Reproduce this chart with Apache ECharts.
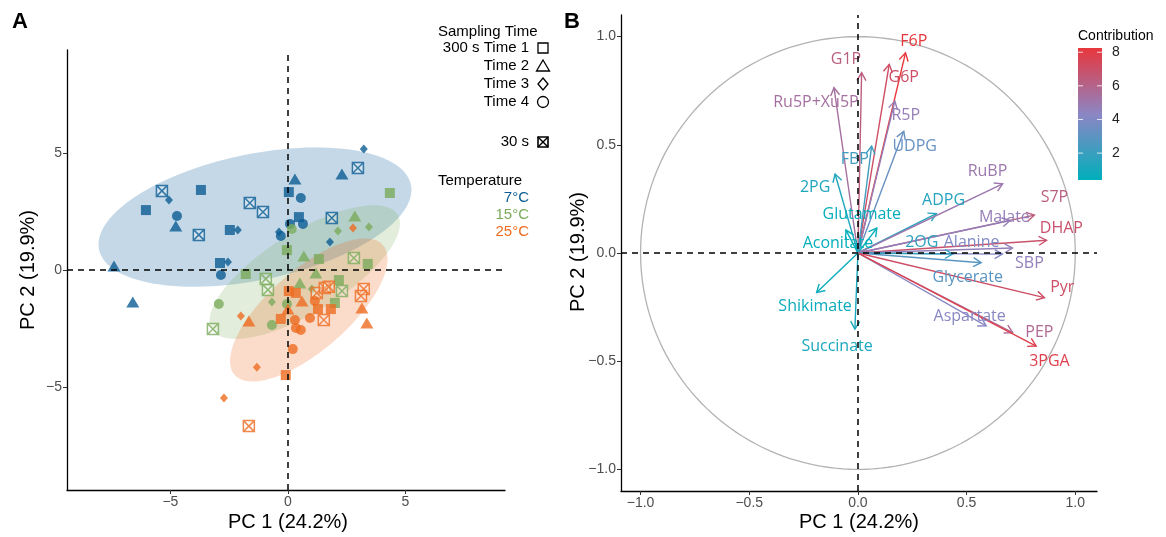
<!DOCTYPE html>
<html><head><meta charset="utf-8">
<script src="https://cdn.jsdelivr.net/npm/echarts@6/dist/echarts.min.js"></script>
<style>html,body{margin:0;padding:0;background:#fff}#c{width:1166px;height:537px}</style>
</head><body><div id="c"></div>
<script>
// ================= DATA =================
// Panel A – PCA scores. Shapes: S=Time 1, T=Time 2, D=Time 3, C=Time 4 (300 s), X=30 s
const temps = ['7°C', '15°C', '25°C'];
const coldX = [-5.36,-5.06,-3.70,-6.04,-4.72,-4.77,-1.62,-1.06,-3.79,-2.47,-2.13,-0.38,-0.30,-2.89,-2.55,-2.85,-7.40,-6.60,0.04,3.23,2.98,2.30,0.30,0.55,0.47,0.64,0.09,1.87,1.79];
const coldY = [3.38,2.99,3.42,2.56,2.31,1.88,2.86,2.48,1.50,1.71,1.71,1.62,1.45,0.30,0.34,-0.21,0.17,-1.37,3.33,5.17,4.36,4.10,3.89,3.08,2.26,1.97,1.97,2.22,1.20];
const coldShape = ['X','D','S','S','C','T','X','X','X','S','D','D','C','S','D','C','T','T','S','D','X','T','T','C','S','C','C','X','D'];
const midX = [4.34,0.17,2.85,2.13,3.45,-0.04,0.68,1.32,2.81,3.40,1.19,-1.79,-0.94,-0.85,0.51,1.02,2.17,2.30,2.00,-0.68,-2.94,-3.19,-0.68,-0.04];
const midY = [3.29,1.75,2.31,1.67,1.84,0.85,0.60,0.47,0.51,0.26,-0.13,-0.17,-0.38,-0.85,-0.56,-0.81,-0.43,-0.90,-1.41,-1.37,-1.45,-2.52,-2.35,-1.45];
const midShape = ['S','C','T','D','D','S','T','S','X','S','T','S','X','X','T','D','S','X','S','D','C','X','C','C'];
const warmX = [2.77,0.04,0.34,1.23,1.57,1.74,0.60,1.15,1.28,1.83,0.00,3.23,3.11,3.15,3.36,-2.00,-1.66,-0.30,0.30,0.34,0.55,0.94,1.53,0.21,-1.32,-0.09,-2.72,-1.66];
const warmY = [1.79,-0.90,-0.98,-0.98,-0.77,-0.72,-1.32,-1.32,-1.67,-1.67,-1.67,-0.81,-1.11,-1.62,-2.26,-1.97,-2.18,-2.09,-2.14,-2.48,-2.56,-2.05,-2.14,-3.38,-4.15,-4.49,-5.47,-6.67];
const warmShape = ['D','S','S','X','X','X','T','C','S','S','T','X','X','T','T','D','T','S','C','C','C','C','X','C','D','S','D','X'];
// 95% confidence ellipses (center, semi-axes, rotation in degrees) per temperature
const ellipseCX = [-1.40, 0.72, 0.89];
const ellipseCY = [2.26, -0.09, -1.71];
const ellipseA = [6.78, 4.65, 4.20];
const ellipseB = [2.69, 1.71, 1.71];
const ellipseAngle = [11.8, 31.9, 41.3];
const ticksA = [-5, 0, 5];

// Panel B – variable loadings and contributions
const vars = ['F6P','G6P','G1P','Ru5P+Xu5P','R5P','UDPG','FBP','2PG','Glutamate','Aconitate','ADPG','RuBP','S7P','Malate','DHAP','SBP','Alanine','2OG','Glycerate','Pyr','Aspartate','PEP','3PGA','Shikimate','Succinate'];
const loadX = [0.219,0.144,0.017,-0.110,0.170,0.211,0.063,-0.105,0.087,-0.055,0.361,0.666,0.812,0.700,0.868,0.711,0.665,0.436,0.567,0.858,0.590,0.712,0.820,-0.190,-0.014];
const loadY = [0.925,0.872,0.833,0.764,0.702,0.563,0.494,0.365,0.115,0.106,0.182,0.320,0.175,0.150,0.059,0.023,-0.005,-0.005,-0.045,-0.206,-0.337,-0.368,-0.430,-0.183,-0.352];
const contrib = [8.25,7.1,6.3,5.4,4.7,3.3,2.25,1.3,0.5,0.4,1.5,5.0,6.3,4.7,6.9,4.6,4.0,1.7,2.9,7.1,4.2,5.8,7.8,0.65,1.1];
const ticksB = [-1, -0.5, 0, 0.5, 1];
const contribTicks = [2, 4, 6, 8];

// ================= LAYOUT / STYLE =================
const labelPos = [[0.257,0.979],[0.211,0.813],[-0.055,0.896],[-0.193,0.697],[0.220,0.637],[0.261,0.494],[-0.014,0.434],[-0.197,0.305],[0.018,0.180],[-0.092,0.046],[0.394,0.245],[0.596,0.379],[0.904,0.259],[0.674,0.166],[0.936,0.115],[0.789,-0.046],[0.523,0.051],[0.294,0.051],[0.505,-0.115],[0.940,-0.157],[0.514,-0.291],[0.835,-0.365],[0.881,-0.499],[-0.197,-0.249],[-0.096,-0.430]];
const tempColors = ['#0b5d93', '#7aab5b', '#ee6b21'];
const ellipseFill = ['rgba(20,100,160,0.25)', 'rgba(122,171,91,0.22)', 'rgba(238,107,33,0.24)'];
const crossPath = 'path://M0,0L20,0L20,20L0,20Z M0,0L20,20 M20,0L0,20';
const symbolOf = {S: 'rect', T: 'triangle', D: 'diamond', C: 'circle', X: crossPath};
const sizeOf = {S: [10,10], T: [13,11], D: [8,9], C: [10,10], X: [11,11]};
const FONT = '"Liberation Sans", Arial, sans-serif';
const minus = v => (v < 0 ? '\u2212' + Math.abs(v) : String(v));
const minus1 = v => (v < 0 ? '\u2212' + Math.abs(v).toFixed(1) : v.toFixed(1));

const cMin = Math.min(...contrib), cMax = Math.max(...contrib);
const gradCols = [[0, [0,175,187]], [0.5, [140,134,196]], [1, [232,54,60]]];
function contribColor(v) {
  let t = (v - cMin) / (cMax - cMin); t = Math.max(0, Math.min(1, t));
  for (let k = 0; k < gradCols.length - 1; k++) {
    const [t0, c0] = gradCols[k], [t1, c1] = gradCols[k+1];
    if (t <= t1) {
      const u = (t - t0) / (t1 - t0);
      return 'rgb(' + c0.map((c, j) => Math.round(c + (c1[j] - c) * u)).join(',') + ')';
    }
  }
  return 'rgb(232,54,60)';
}

function pointsFor(xs, ys, shapes, color) {
  return xs.map((x, i) => {
    const s = shapes[i];
    const item = {value: [x, ys[i]], symbol: symbolOf[s], symbolSize: sizeOf[s]};
    if (s === 'X') item.itemStyle = {color: 'rgba(255,255,255,0.35)', borderColor: color, borderWidth: 1.5};
    else item.itemStyle = {color: color};
    return item;
  });
}

const axisCommon = {
  axisLine: {show: true, onZero: false, lineStyle: {color: '#000', width: 1.3}},
  axisTick: {show: true, length: 4, lineStyle: {color: '#333', width: 1}},
  splitLine: {show: false},
  axisLabel: {color: '#4d4d4d', fontSize: 14, fontFamily: FONT, margin: 5}
};

const chart = echarts.init(document.getElementById('c'), null, {renderer: 'canvas'});

// graphic: titles, legends, colorbar
const G = [];
const txt = (x, y, text, o = {}) => G.push({type: 'text', x, y, rotation: o.rot || 0,
  style: {text, fill: o.fill || '#000', font: (o.bold ? 'bold ' : '') + (o.size || 15) + 'px ' + FONT,
    align: o.align || 'left', verticalAlign: 'middle'}});
txt(20, 22, 'A', {bold: true, size: 22, align: 'center'});
txt(572, 22, 'B', {bold: true, size: 22, align: 'center'});
txt(288, 522, 'PC 1 (24.2%)', {size: 20, align: 'center'});
txt(859, 522, 'PC 1 (24.2%)', {size: 20, align: 'center'});
txt(28, 270, 'PC 2 (19.9%)', {size: 20, align: 'center', rot: Math.PI / 2});
txt(578, 252, 'PC 2 (19.9%)', {size: 20, align: 'center', rot: Math.PI / 2});
// Sampling time legend
txt(438, 32, 'Sampling Time');
const legRows = [['300 s Time 1', 'S', 48], ['Time 2', 'T', 66], ['Time 3', 'D', 84], ['Time 4', 'C', 102], ['30 s', 'X', 142]];
legRows.forEach(([t, s, y]) => {
  txt(529, y, t, {align: 'right'});
  const cx = 543, st = {fill: 'none', stroke: '#000', lineWidth: 1.3};
  if (s === 'S') G.push({type: 'rect', shape: {x: cx - 5, y: y - 5, width: 10, height: 10}, style: st});
  if (s === 'T') G.push({type: 'polygon', shape: {points: [[cx, y - 6], [cx + 6.5, y + 5], [cx - 6.5, y + 5]]}, style: st});
  if (s === 'D') G.push({type: 'polygon', shape: {points: [[cx, y - 6], [cx + 5, y], [cx, y + 6], [cx - 5, y]]}, style: st});
  if (s === 'C') G.push({type: 'circle', shape: {cx, cy: y, r: 5.5}, style: st});
  if (s === 'X') {
    G.push({type: 'rect', shape: {x: cx - 5, y: y - 5, width: 10, height: 10}, style: {fill: 'none', stroke: '#000', lineWidth: 1.6}});
    G.push({type: 'polyline', shape: {points: [[cx - 5, y - 5], [cx + 5, y + 5]]}, style: {stroke: '#000', lineWidth: 1.4}});
    G.push({type: 'polyline', shape: {points: [[cx + 5, y - 5], [cx - 5, y + 5]]}, style: {stroke: '#000', lineWidth: 1.4}});
  }
});
txt(438, 181, 'Temperature');
temps.forEach((t, i) => txt(529, 198 + i * 17, t, {align: 'right', fill: tempColors[i]}));
// Contribution colorbar
const cbX = 1078, cbY = 48, cbW = 24, cbH = 132;
txt(1078, 36, 'Contribution', {size: 14});
const stops = [];
for (let k = 0; k <= 20; k++) stops.push({offset: k / 20, color: contribColor(cMax - (cMax - cMin) * k / 20)});
G.push({type: 'rect', shape: {x: cbX, y: cbY, width: cbW, height: cbH},
  style: {fill: new echarts.graphic.LinearGradient(0, 0, 0, 1, stops)}});
contribTicks.forEach(t => {
  const y = cbY + (cMax - t) / (cMax - cMin) * cbH;
  G.push({type: 'line', shape: {x1: cbX, y1: y, x2: cbX + 5, y2: y}, style: {stroke: 'rgba(255,255,255,0.8)', lineWidth: 1}});
  G.push({type: 'line', shape: {x1: cbX + cbW - 5, y1: y, x2: cbX + cbW, y2: y}, style: {stroke: 'rgba(255,255,255,0.8)', lineWidth: 1}});
  txt(1112, y, String(t), {size: 14, fill: '#222'});
});

const dashLine = {silent: true, symbol: 'none', label: {show: false},
  lineStyle: {color: '#000', type: [6, 5], width: 1.5}, data: [{xAxis: 0}, {yAxis: 0}]};

const option = {
  animation: false,
  backgroundColor: '#fff',
  grid: [
    {left: 67, top: 50, width: 438, height: 440},
    {left: 621, top: 15, width: 476, height: 476}
  ],
  xAxis: [
    Object.assign({}, axisCommon, {gridIndex: 0, type: 'value', min: -9.4, max: 9.24,
      axisTick: Object.assign({}, axisCommon.axisTick, {customValues: ticksA}),
      axisLabel: Object.assign({}, axisCommon.axisLabel, {customValues: ticksA, formatter: minus})}),
    Object.assign({}, axisCommon, {gridIndex: 1, type: 'value', min: -1.09, max: 1.10,
      axisTick: Object.assign({}, axisCommon.axisTick, {customValues: ticksB}),
      axisLabel: Object.assign({}, axisCommon.axisLabel, {customValues: ticksB, formatter: minus1})})
  ],
  yAxis: [
    Object.assign({}, axisCommon, {gridIndex: 0, type: 'value', min: -9.4, max: 9.4,
      axisTick: Object.assign({}, axisCommon.axisTick, {customValues: ticksA}),
      axisLabel: Object.assign({}, axisCommon.axisLabel, {customValues: ticksA, formatter: minus})}),
    Object.assign({}, axisCommon, {gridIndex: 1, type: 'value', min: -1.1, max: 1.1,
      axisTick: Object.assign({}, axisCommon.axisTick, {customValues: ticksB}),
      axisLabel: Object.assign({}, axisCommon.axisLabel, {customValues: ticksB, formatter: minus1})})
  ],
  graphic: G,
  series: [
    {
      type: 'custom', xAxisIndex: 0, yAxisIndex: 0, silent: true,
      data: ellipseCX.map((cx, i) => [cx, ellipseCY[i], ellipseA[i], ellipseB[i], ellipseAngle[i]]),
      renderItem: (params, api) => {
        const cx = api.value(0), cy = api.value(1), a = api.value(2), b = api.value(3), ang = api.value(4) * Math.PI / 180;
        const pts = [];
        for (let k = 0; k < 120; k++) {
          const t = 2 * Math.PI * k / 120;
          pts.push(api.coord([cx + a * Math.cos(t) * Math.cos(ang) - b * Math.sin(t) * Math.sin(ang),
                              cy + a * Math.cos(t) * Math.sin(ang) + b * Math.sin(t) * Math.cos(ang)]));
        }
        return {type: 'polygon', shape: {points: pts}, style: {fill: ellipseFill[params.dataIndex], stroke: null}};
      },
      markLine: dashLine
    },
    {type: 'scatter', name: temps[0], xAxisIndex: 0, yAxisIndex: 0, data: pointsFor(coldX, coldY, coldShape, tempColors[0])},
    {type: 'scatter', name: temps[1], xAxisIndex: 0, yAxisIndex: 0, data: pointsFor(midX, midY, midShape, tempColors[1])},
    {type: 'scatter', name: temps[2], xAxisIndex: 0, yAxisIndex: 0, data: pointsFor(warmX, warmY, warmShape, tempColors[2])},
    {
      type: 'custom', xAxisIndex: 1, yAxisIndex: 1, silent: true, data: [[0, 0, 1]],
      renderItem: (params, api) => {
        const r = api.value(2), pts = [];
        for (let k = 0; k <= 180; k++) {
          const t = 2 * Math.PI * k / 180;
          pts.push(api.coord([r * Math.cos(t), r * Math.sin(t)]));
        }
        return {type: 'polyline', shape: {points: pts}, style: {stroke: '#b3b3b3', lineWidth: 1.3, fill: null}};
      },
      markLine: dashLine
    },
    {
      type: 'custom', xAxisIndex: 1, yAxisIndex: 1, silent: true,
      data: loadX.map((x, i) => [x, loadY[i], contrib[i]]),
      renderItem: (params, api) => {
        const o = api.coord([0, 0]), p = api.coord([api.value(0), api.value(1)]);
        const c = contribColor(api.value(2));
        const ang = Math.atan2(p[1] - o[1], p[0] - o[0]), L = 9, w = Math.PI / 6;
        const h1 = [p[0] - L * Math.cos(ang - w), p[1] - L * Math.sin(ang - w)];
        const h2 = [p[0] - L * Math.cos(ang + w), p[1] - L * Math.sin(ang + w)];
        return {type: 'group', children: [
          {type: 'line', shape: {x1: o[0], y1: o[1], x2: p[0], y2: p[1]}, style: {stroke: c, lineWidth: 1.4}},
          {type: 'polyline', shape: {points: [h1, p, h2]}, style: {stroke: c, lineWidth: 1.4, fill: null}}
        ]};
      }
    },
    {
      type: 'custom', xAxisIndex: 1, yAxisIndex: 1, silent: true,
      data: loadX.map((x, i) => [x, loadY[i], contrib[i]]),
      renderItem: (params, api) => {
        const i = params.dataIndex, lp = api.coord(labelPos[i]);
        return {type: 'text', x: lp[0], y: lp[1],
          style: {text: vars[i], fill: contribColor(api.value(2)), font: '16px "Open Sans", sans-serif',
            align: 'center', verticalAlign: 'middle'}};
      }
    }
  ]
};
chart.setOption(option);
</script></body></html>
